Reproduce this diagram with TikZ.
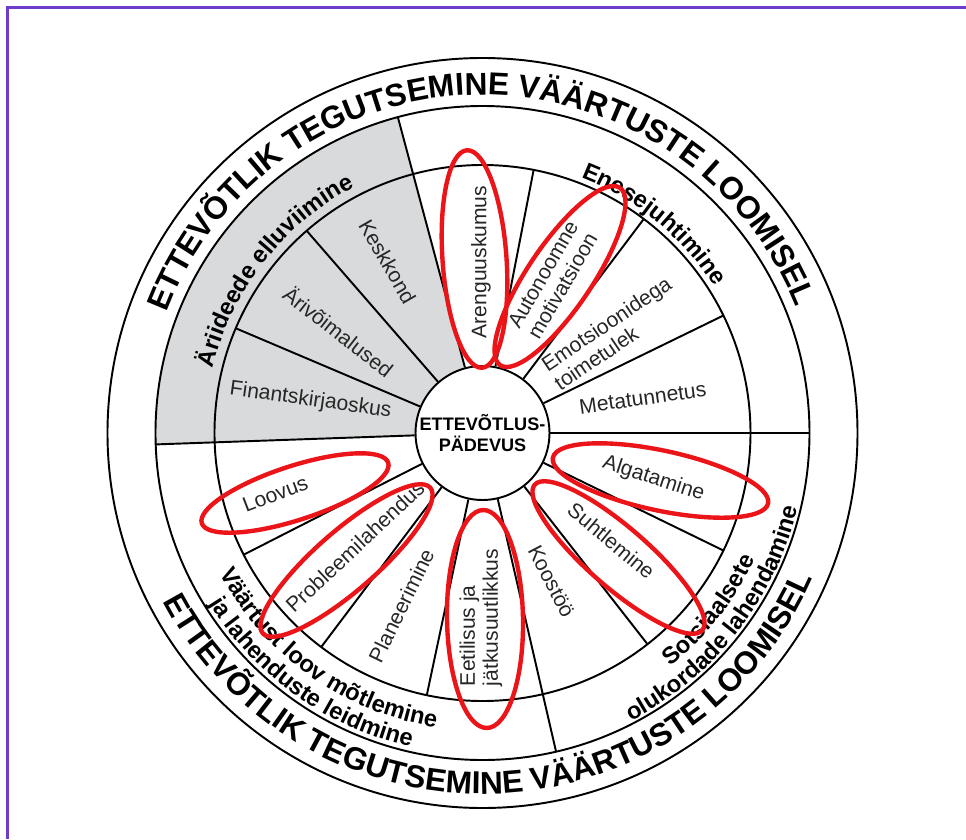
\documentclass[tikz,border=0pt]{standalone}
\usepackage{fontspec}
\setmainfont{Liberation Sans}
\usepackage{tikz}
\usetikzlibrary{decorations.text}
\definecolor{petalred}{RGB}{235,20,25}
\definecolor{sectorgray}{RGB}{217,218,219}
\definecolor{framepurple}{RGB}{110,60,205}
\newcommand\ringfont{\bfseries\fontsize{18}{20}\selectfont}
\newcommand\catfont{\bfseries\fontsize{13.5}{15}\selectfont}
\tikzset{
  ring/.style={line width=1.1pt, draw=black},
  divider/.style={line width=1.1pt, draw=black},
  hub/.style={circle, draw=black, fill=white, line width=1.1pt, minimum size=2.68cm, inner sep=0pt,
              align=center, font=\bfseries\fontsize{10.3}{12}\selectfont},
  seglabel/.style={align=left, inner sep=0pt, text=black!85, font=\fontsize{12}{13}\selectfont},
  petal/.style={draw=petalred, line width=2.5pt},
  arctext/.style={decorate, decoration={text along path, text align=center, text={#1}}},
}

\begin{document}
\begin{tikzpicture}[x=0.02cm, y=0.02cm]
    \useasboundingbox (-482.5,-406) rectangle (483.5,433);
    \draw[framepurple, line width=1.2pt] (-475,-406) -- (-475,425.5) -- (483.5,425.5);
    \fill[sectorgray] (0,0) -- (105:327) arc[start angle=105, end angle=182, radius=327] -- cycle;
    \draw[ring] (0,0) circle[radius=375];
    \draw[ring] (0,0) circle[radius=327];
    \draw[ring] (0,0) circle[radius=268];
    \node[hub] (hub) at (0,0) {ETTEVÕTLUS-\\PÄDEVUS};
    \foreach \a in {0,105,182,283}
      \draw[divider] (hub.\a) -- (\a:327);
    \foreach \a in {26,53,79,131,157,207,233,258,308,334}
      \draw[divider] (hub.\a) -- (\a:268);

    \path[arctext={|\ringfont|ETTEVÕTLIK TEGUTSEMINE VÄÄRTUSTE LOOMISEL}]
      (170.5:338) arc[start angle=170.5, end angle=10.5, radius=338];
    \path[arctext={|\ringfont|ETTEVÕTLIK TEGUTSEMINE VÄÄRTUSTE LOOMISEL}]
      (192:361) arc[start angle=192, end angle=352, radius=361];
    \path[arctext={|\catfont|Äriideede elluviimine}]
      (202:277) arc[start angle=202, end angle=82, radius=277];
    \path[arctext={|\catfont|Enesejuhtimine}]
      (110.6:274) arc[start angle=110.6, end angle=-9.4, radius=274];
    \path[arctext={|\catfont|Väärtust loov mõtlemine}]
      (174.5:298) arc[start angle=174.5, end angle=294.5, radius=298];
    \path[arctext={|\catfont|ja lahenduste leidmine}]
      (174.5:322) arc[start angle=174.5, end angle=294.5, radius=322];
    \path[arctext={|\catfont|Sotsiaalsete}]
      (262:300) arc[start angle=262, end angle=382, radius=300];
    \path[arctext={|\catfont|olukordade lahendamine}]
      (262:324) arc[start angle=262, end angle=382, radius=324];

    \node[seglabel, rotate=-60] (keskkond) at (119:196) {Keskkond};
    \node[seglabel, rotate=-38] (arivoimalused) at (144.7:176) {Ärivõimalused};
    \node[seglabel, rotate=-8] (finants) at (169.3:175) {Finantskirjaoskus};
    \node[seglabel, rotate=90] (arengu) at (90.5:171) {Arenguuskumus};
    \node[seglabel, rotate=60] (autonoomne) at (65.3:168.5) {Autonoomne\\motivatsioon};
    \node[seglabel, rotate=34] (emotsioon) at (37.5:164) {Emotsioonidega\\toimetulek};
    \node[seglabel, rotate=8] (metatunnetus) at (12.3:164) {Metatunnetus};
    \node[seglabel, rotate=-18] (algatamine) at (-15:177) {Algatamine};
    \node[seglabel, rotate=-39.6] (suhtlemine) at (-39.9:168) {Suhtlemine};
    \node[seglabel, rotate=-62.6] (koostoo) at (-65.1:163.7) {Koostöö};
    \node[seglabel, rotate=90] (eetilisus) at (269.5:184.5) {Eetilisus ja\\jätkusuutlikkus};
    \node[seglabel, rotate=64] (planeerimine) at (244.8:190.6) {Planeerimine};
    \node[seglabel, rotate=43] (probleem) at (221.7:170.7) {Probleemilahendus};
    \node[seglabel, rotate=21] (loovus) at (196.4:216) {Loovus};

    \foreach \px/\py/\rot/\ra/\rb in {-8/174/94/109/32, 77.5/156.5/56/107/32, 178/-47.5/-12/110/30,
        136/-124.5/-41/111/30, 2.5/-186/91/109/38, -136/-127.5/41/111/30, -187.5/-60/18/98/27}
      \draw[petal, rotate around={\rot:(\px,\py)}] (\px,\py) ellipse[x radius=\ra, y radius=\rb];
  \end{tikzpicture}
\end{document}
